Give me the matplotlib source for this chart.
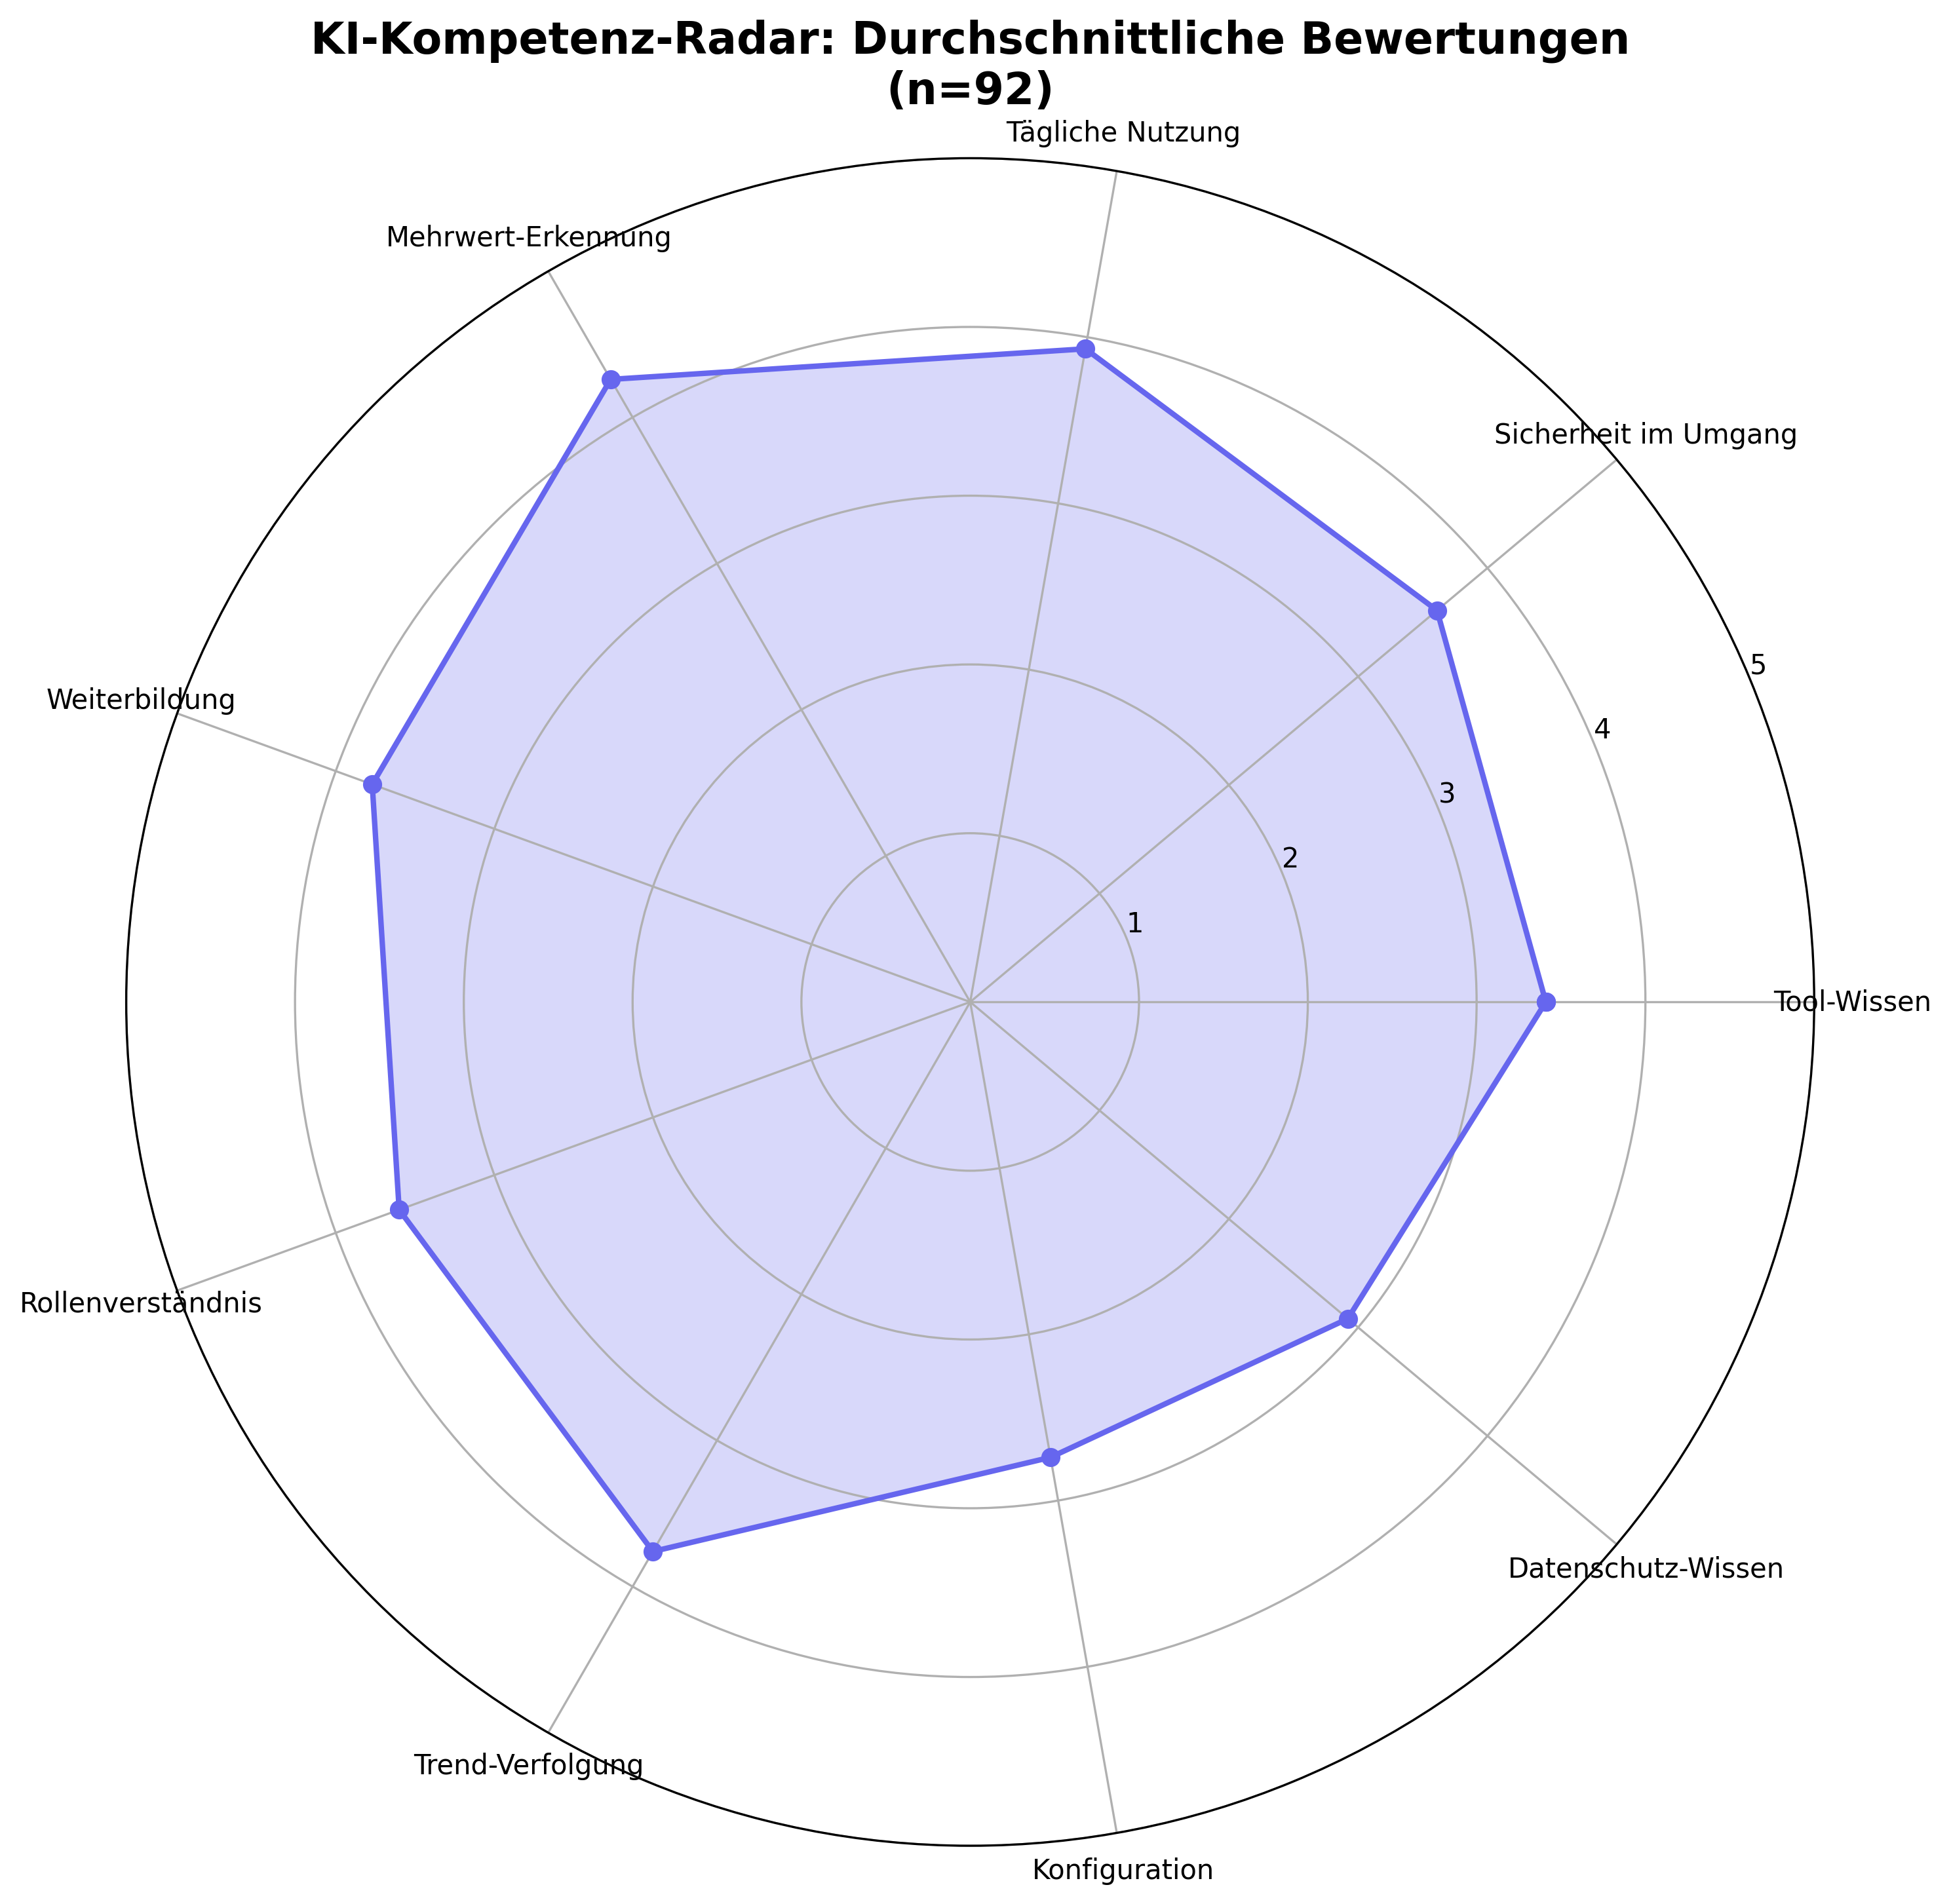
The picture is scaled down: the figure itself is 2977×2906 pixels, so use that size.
import numpy as np
import matplotlib; matplotlib.use("Agg")
import matplotlib.pyplot as plt

categories = ["Tool-Wissen", "Sicherheit im Umgang", "Tägliche Nutzung",
              "Mehrwert-Erkennung", "Weiterbildung", "Rollenverständnis",
              "Trend-Verfolgung", "Konfiguration", "Datenschutz-Wissen"]
mean_scores = [3.41, 3.61, 3.93, 4.26, 3.77, 3.60, 3.76, 2.74, 2.92]
r_ticks = [1, 2, 3, 4, 5]

n = len(categories)
angles = np.linspace(0, 2 * np.pi, n, endpoint=False).tolist()
vals = mean_scores + mean_scores[:1]
ang = angles + angles[:1]

fig, ax = plt.subplots(figsize=(10, 10), subplot_kw=dict(polar=True))
ax.plot(ang, vals, "o-", color="#6666ee", linewidth=2)
ax.fill(ang, vals, color="#6666ee", alpha=0.25)
ax.set_xticks(angles)
ax.set_xticklabels(categories, fontsize=10)
ax.set_ylim(0, 5)
ax.set_yticks(r_ticks)
ax.set_yticklabels([str(t) for t in r_ticks], fontsize=10)
ax.set_title("KI-Kompetenz-Radar: Durchschnittliche Bewertungen\n(n=92)",
             fontsize=16, fontweight="bold", pad=20)

plt.tight_layout()
fig.savefig("out.png", dpi=300, bbox_inches="tight")
